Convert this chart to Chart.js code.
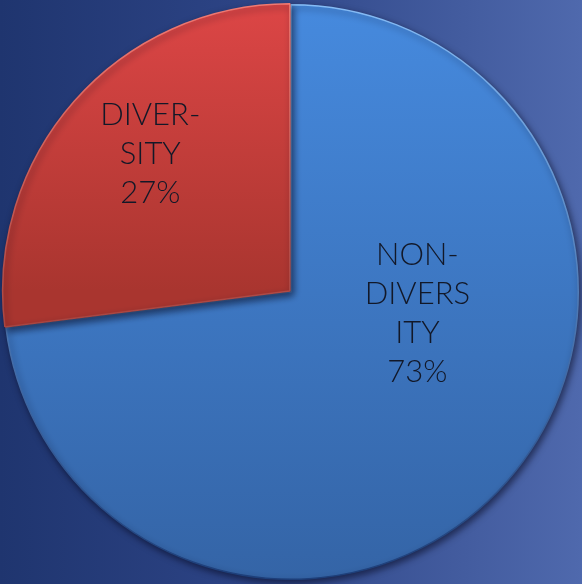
<!DOCTYPE html>
<html>
<head>
<meta charset="utf-8">
<script src="https://cdn.jsdelivr.net/npm/chart.js@4"></script>
<style>
  html, body { margin: 0; padding: 0; }
  body {
    width: 582px; height: 584px; overflow: hidden;
    background: linear-gradient(to right, #1f356f 0%, #2c4384 40%, #4f69ad 100%);
  }
  #wrap { position: relative; width: 582px; height: 584px; }
</style>
</head>
<body>
<div id="wrap"><canvas id="pie"></canvas></div>
<script>
// values
const categories = ["NON-DIVERSITY", "DIVERSITY"];
const shares = [73, 27];
const labelLines = [["NON-", "DIVERS", "ITY"], ["DIVER-", "SITY"]];

// top / bottom tones for each slice, and for its rim
const sliceTop = ["#468ade", "#dd4646"];
const sliceBottom = ["#3464a6", "#a9352f"];
const rimTop = ["#86bdf7", "#f27a72"];
const rimBottom = ["#1c3d78", "#6e1c1a"];

const verticalGradient = (tops, bottoms, redHalf) => (context) => {
  const chart = context.chart;
  const area = chart.chartArea;
  const i = context.dataIndex;
  if (!area) return tops[i];
  const g = chart.ctx.createLinearGradient(0, area.top, 0, area.bottom);
  g.addColorStop(0, tops[i]);
  if (redHalf && i === 1) {
    g.addColorStop(0.5, bottoms[i]);
  }
  g.addColorStop(1, bottoms[i]);
  return g;
};

// soft drop shadow under the slices
const shadowPlugin = {
  id: "sliceShadow",
  beforeDatasetsDraw: (chart) => {
    const ctx = chart.ctx;
    ctx.save();
    ctx.shadowColor = "rgba(0, 0, 20, 0.55)";
    ctx.shadowBlur = 7;
    ctx.shadowOffsetX = 2;
    ctx.shadowOffsetY = 3;
  },
  afterDatasetsDraw: (chart) => {
    chart.ctx.restore();
  },
};

// label spots as fractions of the radius, relative to the centre
const labelSpots = [[0.44, -0.13], [-0.49, -0.615]];

const labelPlugin = {
  id: "sliceLabels",
  afterDatasetsDraw: (chart) => {
    const ctx = chart.ctx;
    const arcs = chart.getDatasetMeta(0).data;
    ctx.save();
    ctx.font = "300 31px Lato, 'DejaVu Sans', sans-serif";
    ctx.textAlign = "center";
    ctx.textBaseline = "middle";
    ctx.fillStyle = "#121828";
    arcs.forEach((arc, i) => {
      const r = arc.outerRadius;
      const x = arc.x + labelSpots[i][0] * r;
      let y = arc.y + labelSpots[i][1] * r;
      const lines = labelLines[i].concat([shares[i] + "%"]);
      lines.forEach((line) => {
        ctx.fillText(line, x, y);
        y += 39;
      });
    });
    ctx.restore();
  },
};

new Chart(document.getElementById("pie"), {
  type: "pie",
  data: {
    labels: categories,
    datasets: [
      {
        data: shares,
        backgroundColor: verticalGradient(sliceTop, sliceBottom, true),
        borderColor: verticalGradient(rimTop, rimBottom, false),
        borderWidth: 1.5,
        offset: [0, 6],
      },
    ],
  },
  options: {
    responsive: true,
    maintainAspectRatio: false,
    animation: false,
    layout: { padding: 0 },
    plugins: {
      legend: { display: false },
      tooltip: { enabled: false },
    },
  },
  plugins: [shadowPlugin, labelPlugin],
});
</script>
</body>
</html>
